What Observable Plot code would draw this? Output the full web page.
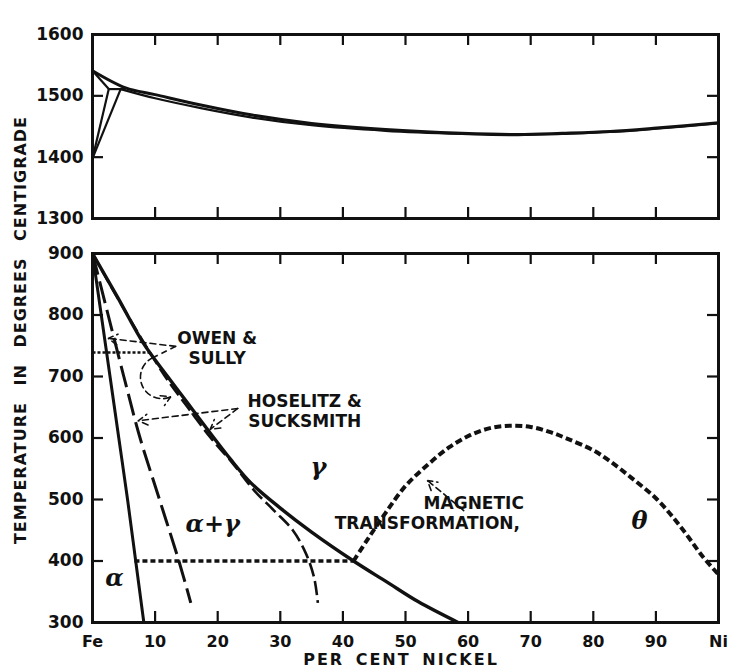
<!DOCTYPE html>
<html><head><meta charset="utf-8">
<script src="https://cdn.jsdelivr.net/npm/d3@7"></script>
<script src="https://cdn.jsdelivr.net/npm/@observablehq/plot@0.6"></script>
<style>
body{margin:0;background:#fff;}
#chart{position:relative;width:735px;height:669px;overflow:hidden;background:#fff;}
#chart svg{display:block;}
.ytitle{position:absolute;left:20px;top:330px;transform:translate(-50%,-50%) rotate(-90deg);white-space:nowrap;font:bold 16px "DejaVu Sans";letter-spacing:1px;word-spacing:10px;color:#111;}
.xtitle{position:absolute;left:401px;top:650px;transform:translateX(-50%);white-space:nowrap;font:bold 16px "DejaVu Sans";letter-spacing:2px;word-spacing:4px;color:#111;}
</style></head>
<body>
<div id="chart">
  <div id="top"></div>
  <div id="bottom"></div>
  <div class="ytitle">TEMPERATURE IN DEGREES CENTIGRADE</div>
  <div class="xtitle">PER CENT NICKEL</div>
</div>
<script>
// ---- tick values / labels ----
const xTicks = [0,10,20,30,40,50,60,70,80,90,100];
const xTickLabels = ["Fe","10","20","30","40","50","60","70","80","90","Ni"];
const xInnerTicks = [10,20,30,40,50,60,70,80,90];
const topYTicks = [1300,1400,1500,1600];
const topYInner = [1400,1500];
const bottomYTicks = [300,400,500,600,700,800,900];
const bottomYInner = [400,500,600,700,800];

// ---- upper panel (melting range), [per cent Ni, °C] ----
const liquidus = [[0,1541],[5.3,1513],[10,1502],[17.3,1485],[25.3,1469],[35,1455],[46.8,1445],[59,1439],[68,1437],[75,1439],[82.7,1442],[89.6,1447],[100,1456]];
const solidus = [[4.5,1511],[10,1496],[17.3,1480],[25.3,1465],[35,1452],[46.8,1443],[59,1438],[68,1436],[75,1438],[82.7,1441],[89.6,1446],[100,1455]];
const deltaSolidus = [[0,1541],[2.6,1511]];
const peritectic = [[2.6,1511],[5.3,1511]];
const deltaBoundary = [[0,1398],[2.6,1511]];
const gammaDeltaBoundary = [[0,1398],[4.5,1511]];

// ---- lower panel, [per cent Ni, °C] ----
const alphaSolvus = [[0,900],[1.4,800],[2.8,700],[4.2,600],[5.6,500],[6.9,400],[8.2,300]];
const hoselitzAlpha = [[0,900],[2.5,800],[5.0,700],[7.6,600],[10.7,500],[13.8,400],[15.7,332]];
const gammaBoundary = [[0,900],[4,829],[8.2,753],[12,700],[15.7,650],[19.4,600],[22,566],[25.3,527],[30,486],[35,447],[41.7,400],[47,366],[52,334],[58.4,300]];
const hoselitzGamma = [[0,900],[5.3,805],[11.6,700],[15.2,650],[18.9,600],[22.3,560],[25.8,515],[29,482],[32,450],[34.1,412],[35.4,373],[36,332]];
const line400 = [[6.7,400],[41.7,400]];
const owenLine = [[0,739],[9.2,739]];
const magnetic = [[41.7,400],[44,436],[46.8,478],[50,522],[53.5,556],[57,585],[60.4,605],[63.5,616],[66.7,620],[70,618],[73,610],[75.8,599],[80,580],[82.7,562],[86,536],[90.2,500],[94,455],[97.5,407],[100,378]];

// ---- annotations ----
const owenLeg = [[13.3,749],[9.7,731]];
const straightArrows = [
  {x1:13.3,y1:749,x2:2.5,y2:762},
  {x1:23.2,y1:648,x2:7.3,y2:628},
  {x1:23.2,y1:648,x2:18.8,y2:614},
  {x1:59.3,y1:482,x2:53.5,y2:531}
];
const curvedArrows = [{x1:9.7,y1:731,x2:12.5,y2:667}];
const sansLabels = [
  {text:"OWEN &\nSULLY", x:19.9, y:747, anchor:"middle"},
  {text:"HOSELITZ &\nSUCKSMITH", x:33.9, y:644, anchor:"middle"},
  {text:"MAGNETIC", x:60.9, y:495, anchor:"start"},
  {text:"TRANSFORMATION,", x:53.5, y:463, anchor:"start"}
];
const greekLabels = [
  {text:"γ", x:36.1, y:552},
  {text:"α+γ", x:19.2, y:460},
  {text:"α", x:3.5, y:372},
  {text:"θ", x:87.4, y:464}
];

const W = 735, ML = 92, MR = 17, TICK = 11;
const FONT = "DejaVu Sans";
const INK = "#111";
const px = d => d[0], py = d => d[1];
const lineStyle = (w, dash) => ({x: px, y: py, stroke: INK, strokeWidth: w, strokeLinecap: "butt", strokeLinejoin: "round", ...(dash ? {strokeDasharray: dash} : {})});

function frameMarks(yInner, innerH) {
  const innerW = W - ML - MR;
  const s = {stroke: INK, strokeWidth: 2.2};
  return [
    Plot.ruleX(xInnerTicks, {...s, insetTop: innerH - TICK}),
    Plot.ruleX(xInnerTicks, {...s, insetBottom: innerH - TICK}),
    Plot.ruleY(yInner, {...s, insetRight: innerW - TICK}),
    Plot.ruleY(yInner, {...s, insetLeft: innerW - TICK}),
    Plot.frame({stroke: INK, strokeWidth: 3})
  ];
}

// top panel
const TH = 226, TMT = 34, TMB = 8;
const topPlot = Plot.plot({
  width: W, height: TH,
  marginLeft: ML, marginRight: MR, marginTop: TMT, marginBottom: TMB,
  style: {fontFamily: FONT, background: "transparent", overflow: "visible"},
  x: {domain: [0,100], axis: null},
  y: {domain: [1300,1600]},
  marks: [
    ...frameMarks(topYInner, TH - TMT - TMB),
    Plot.axisY({ticks: topYTicks, tickFormat: d => String(d), tickSize: 0, tickPadding: 9, fontSize: 17, fontWeight: "bold", label: null, fill: INK}),
    Plot.line(solidus, {...lineStyle(2.2), curve: "catmull-rom"}),
    Plot.line(liquidus, {...lineStyle(3), curve: "catmull-rom"}),
    Plot.line(deltaSolidus, lineStyle(2.2)),
    Plot.line(peritectic, lineStyle(2.2)),
    Plot.line(deltaBoundary, lineStyle(2.2)),
    Plot.line(gammaDeltaBoundary, lineStyle(2.2))
  ]
});
document.getElementById("top").append(topPlot);

// bottom panel
const BH = 443, BMT = 27, BMB = 47;
const bottomPlot = Plot.plot({
  width: W, height: BH,
  marginLeft: ML, marginRight: MR, marginTop: BMT, marginBottom: BMB,
  style: {fontFamily: FONT, background: "transparent", overflow: "visible"},
  x: {domain: [0,100]},
  y: {domain: [300,900]},
  marks: [
    ...frameMarks(bottomYInner, BH - BMT - BMB),
    Plot.axisY({ticks: bottomYTicks, tickFormat: d => String(d), tickSize: 0, tickPadding: 9, fontSize: 17, fontWeight: "bold", label: null, fill: INK}),
    Plot.axisX({ticks: xTicks, tickFormat: d => xTickLabels[xTicks.indexOf(d)], tickSize: 0, tickPadding: 13, fontSize: 16, fontWeight: "bold", label: null, fill: INK}),
    Plot.line(alphaSolvus, {...lineStyle(3), curve: "catmull-rom"}),
    Plot.line(hoselitzAlpha, {...lineStyle(3, "22,7"), curve: "catmull-rom"}),
    Plot.line(hoselitzGamma, {...lineStyle(2.6, "14,5"), curve: "catmull-rom"}),
    Plot.line(gammaBoundary, {...lineStyle(3.4), curve: "catmull-rom"}),
    Plot.line(line400, lineStyle(3.4, "5,3")),
    Plot.line(owenLine, lineStyle(2.4, "3,2")),
    Plot.line(magnetic, {...lineStyle(4, "7,3.5"), curve: "catmull-rom"}),
    Plot.line(owenLeg, lineStyle(1.6, "6,4")),
    Plot.arrow(straightArrows, {x1:"x1", y1:"y1", x2:"x2", y2:"y2", stroke: INK, strokeWidth: 1.6, strokeDasharray: "6,4", headLength: 10}),
    Plot.arrow(curvedArrows, {x1:"x1", y1:"y1", x2:"x2", y2:"y2", bend: -90, stroke: INK, strokeWidth: 1.6, strokeDasharray: "6,4", headLength: 10}),
    Plot.text(sansLabels, {x:"x", y:"y", text:"text", textAnchor: d => d.anchor, fontSize: 17, fontWeight: "bold", lineHeight: 1.15, fill: INK, fontFamily: FONT}),
    Plot.text(greekLabels, {x:"x", y:"y", text:"text", fontSize: 24, fontStyle: "italic", fontWeight: "bold", fill: INK, fontFamily: "DejaVu Serif"})
  ]
});
document.getElementById("bottom").append(bottomPlot);
</script>
</body></html>
